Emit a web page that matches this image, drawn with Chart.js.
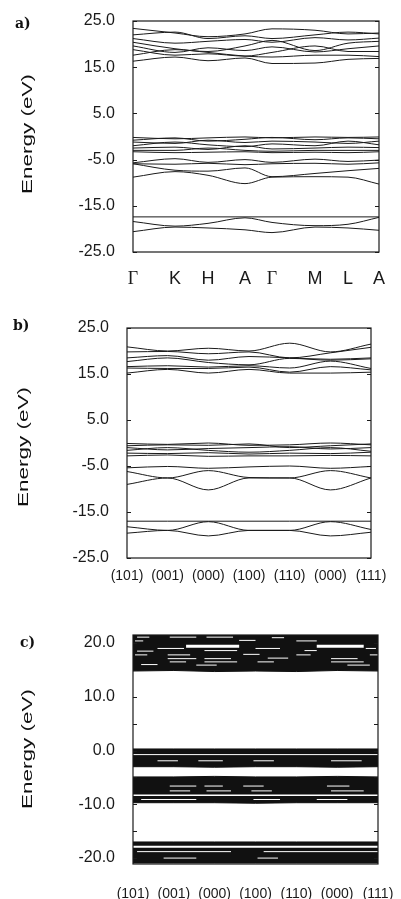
<!DOCTYPE html>
<html>
<head>
<meta charset="utf-8">
<script src="https://cdn.jsdelivr.net/npm/chart.js@4.4.1/dist/chart.umd.min.js"></script>
<style>
    body { margin: 0; background: #fff; width: 401px; height: 899px; position: relative; overflow: hidden; }
    .panel { position: absolute; left: 0; }
    .tag { position: absolute; font-family: 'DejaVu Serif', serif; font-weight: bold; font-size: 14px; color: #111; }
    .ylab { position: absolute; font-family: 'Liberation Sans', Arial, sans-serif; font-size: 15px; color: #111;
            white-space: nowrap; transform: translate(-50%, -50%) rotate(-90deg) scaleX(1.5); }
</style>
</head>
<body>
<canvas id="chartA" class="panel" style="top:0px" width="401" height="295"></canvas>
<canvas id="chartB" class="panel" style="top:300px" width="401" height="295"></canvas>
<canvas id="chartC" class="panel" style="top:600px" width="401" height="299"></canvas>

<div class="tag" style="left:15px; top:15px">a)</div>
<div class="tag" style="left:13px; top:317px">b)</div>
<div class="tag" style="left:20px; top:634px">c)</div>
<div class="ylab" style="left:26px; top:134px">Energy (eV)</div>
<div class="ylab" style="left:22px; top:447px">Energy (eV)</div>
<div class="ylab" style="left:26px; top:749px">Energy (eV)</div>

<script>
// ---- a) wurtzite path, energies at G K H A G M L A ----
const kPosA = [0, 42, 75, 112, 139, 182, 215, 246];
const kLabelsA = ['Γ', 'K', 'H', 'A', 'Γ', 'M', 'L', 'A'];
const eTicksA = [25, 15, 5, -5, -15, -25];

const condA = [
    [23.4, 22.4, 21.6, 22.2, 23.3, 23.0, 22.2, 22.4],
    [22.0, 22.6, 21.2, 21.8, 21.2, 22.0, 22.6, 22.2],
    [21.2, 20.2, 20.6, 21.0, 20.4, 21.4, 20.9, 21.3],
    [20.4, 19.0, 18.4, 19.6, 20.8, 18.6, 20.2, 20.6],
    [19.6, 18.2, 19.2, 18.6, 19.4, 18.3, 19.0, 19.6],
    [18.8, 17.6, 17.9, 17.4, 18.2, 19.6, 18.4, 18.4],
    [17.6, 18.8, 18.2, 17.4, 17.2, 17.6, 17.6, 17.3],
    [16.3, 17.2, 16.4, 17.0, 15.8, 15.9, 16.7, 16.9]
];
const valA = [
    [-0.2, -0.5, -0.3, -0.1, -0.3, -0.1, -0.2, -0.1],
    [-0.8, -0.3, -1.0, -0.6, -0.2, -0.7, -0.3, -0.5],
    [-1.2, -1.5, -0.8, -1.3, -1.0, -1.2, -1.5, -1.0],
    [-2.0, -1.2, -1.8, -2.2, -1.6, -2.0, -1.0, -1.8],
    [-2.5, -2.3, -2.8, -2.0, -2.7, -2.5, -2.3, -2.4],
    [-3.0, -3.0, -2.5, -3.0, -3.2, -3.0, -3.0, -3.0],
    [-3.3, -3.5, -3.4, -3.3, -3.5, -3.4, -3.5, -3.3]
];
const midA = [
    [-5.7, -4.8, -5.6, -5.0, -5.6, -4.9, -5.4, -5.1],
    [-5.9, -6.0, -5.8, -6.1, -5.9, -5.8, -6.0, -5.7],
    [-5.9, -7.3, -7.5, -6.8, -8.7, -8.0, -7.4, -6.9],
    [-8.8, -7.6, -8.4, -10.2, -8.8, -8.7, -8.8, -10.3]
];
const coreA = [
    [-17.4, -17.4, -17.4, -17.4, -17.4, -17.4, -17.4, -17.4],
    [-18.4, -19.4, -18.8, -17.6, -18.6, -19.3, -19.0, -17.5],
    [-20.6, -19.6, -19.8, -20.2, -20.8, -19.6, -19.8, -20.3]
];

// ---- b) supercell path ----
const kPosB = [0, 1, 2, 3, 4, 5, 6];
const kLabelsB = ['(101)', '(001)', '(000)', '(100)', '(110)', '(000)', '(111)'];
const eTicksB = [25, 15, 5, -5, -15, -25];

const condB = [
    [20.9, 20.0, 20.6, 20.0, 21.7, 19.8, 21.5],
    [19.8, 19.9, 19.4, 19.8, 18.5, 19.6, 20.8],
    [18.5, 19.0, 18.0, 18.8, 18.5, 18.2, 18.5],
    [17.7, 18.5, 17.5, 17.0, 18.4, 18.0, 18.3],
    [16.6, 16.8, 16.5, 16.8, 16.3, 17.8, 16.2],
    [16.3, 16.2, 16.2, 16.5, 15.4, 16.6, 15.9],
    [15.2, 16.0, 15.2, 16.0, 15.2, 15.2, 15.4]
];
const valB = [
    [-0.1, -0.3, 0.0, -0.5, -0.4, 0.0, -0.4],
    [-0.6, -0.4, -0.5, -0.2, -1.0, -0.6, -0.2],
    [-1.0, -1.5, -1.2, -1.0, -0.8, -1.3, -1.0],
    [-1.6, -1.0, -1.6, -2.0, -1.6, -1.0, -1.8],
    [-2.2, -2.3, -2.1, -2.4, -2.2, -2.3, -2.0],
    [-2.8, -2.6, -2.9, -2.8, -2.8, -2.7, -2.8]
];
const midB = [
    [-5.4, -5.1, -5.5, -5.2, -5.0, -5.5, -5.1],
    [-6.2, -7.6, -6.0, -7.5, -7.6, -6.0, -7.6],
    [-9.0, -7.6, -10.2, -7.6, -7.6, -10.2, -7.6]
];
const coreB = [
    [-17.0, -17.0, -17.0, -17.0, -17.0, -17.0, -17.0],
    [-18.2, -19.0, -17.1, -19.0, -19.0, -17.1, -18.8],
    [-19.6, -19.0, -20.2, -19.0, -19.0, -20.2, -19.4]
];

// ---- c) large cell: dense band blocks (top, bottom per k) and gaps inside them ----
const kPosC = [0, 1, 2, 3, 4, 5, 6];
const kLabelsC = kLabelsB;
const eTicksC = [20, 10, 0, -10, -20];
const eMarksC = [20, 15, 10, 5, 0, -5, -10, -15, -20];

const condTopC = [21.5, 21.5, 21.5, 21.5, 21.5, 21.5, 21.5];
const condBotC = [14.8, 14.9, 14.7, 14.8, 14.7, 14.9, 14.8];
const val1TopC = [0.3, 0.3, 0.3, 0.3, 0.3, 0.3, 0.3];
const val1BotC = [-3.0, -3.0, -3.1, -3.0, -3.0, -3.1, -3.0];
const val2TopC = [-4.9, -4.9, -4.8, -4.9, -4.9, -4.8, -4.9];
const val2BotC = [-9.7, -9.7, -9.7, -9.8, -9.7, -9.7, -9.7];
const coreTopC = [-17.0, -17.0, -17.0, -17.0, -17.0, -17.0, -17.0];
const coreBotC = [-20.9, -20.9, -20.9, -20.9, -20.9, -20.9, -20.9];

// [k start, k end, energy, width]
const gapsC = [
    [0.1, 0.4, 21.1, 1], [0.9, 1.55, 21.1, 1], [1.8, 2.45, 21.1, 1], [3.4, 3.7, 21.0, 1],
    [0.05, 0.25, 20.4, 1], [4.0, 4.5, 20.4, 1], [2.6, 3.0, 20.5, 1],
    [1.3, 2.6, 19.4, 3], [4.5, 5.65, 19.4, 3],
    [0.6, 1.25, 19.0, 1], [3.0, 3.6, 19.0, 1], [5.7, 5.95, 19.0, 1],
    [1.75, 2.55, 18.6, 1], [4.2, 4.5, 18.6, 1], [0.1, 0.5, 18.5, 1],
    [0.05, 0.35, 17.8, 1], [0.85, 1.4, 17.8, 1], [4.0, 4.35, 17.8, 1], [5.8, 6.0, 17.8, 1], [2.7, 3.1, 17.9, 1],
    [0.85, 1.55, 17.1, 1], [1.75, 2.4, 17.1, 1], [4.85, 5.5, 17.1, 1], [3.3, 3.8, 17.2, 1],
    [0.9, 1.3, 16.5, 1], [1.75, 2.55, 16.5, 1], [3.05, 3.45, 16.5, 1], [4.85, 5.65, 16.5, 1],
    [1.55, 2.05, 15.9, 1], [5.25, 5.8, 15.9, 1], [0.2, 0.6, 16.0, 1],
    [0.0, 6.0, -0.75, 1],
    [0.6, 1.1, -1.9, 1], [1.6, 2.2, -1.9, 1], [2.95, 3.45, -1.9, 1], [4.85, 5.6, -1.9, 1],
    [0.9, 1.55, -6.6, 1], [1.75, 2.2, -6.6, 1], [2.7, 3.2, -6.6, 1], [4.75, 5.3, -6.6, 1],
    [0.9, 1.4, -7.5, 1], [1.8, 2.4, -7.5, 1], [2.9, 3.4, -7.5, 1], [4.85, 5.65, -7.5, 1],
    [0.0, 6.0, -8.3, 1.5],
    [0.2, 1.55, -9.1, 1], [2.95, 3.6, -9.1, 1], [4.5, 5.25, -9.1, 1],
    [0.0, 6.0, -17.9, 2],
    [0.1, 2.4, -18.8, 1], [3.2, 6.0, -18.8, 1],
    [0.75, 1.55, -20.0, 1], [3.05, 3.55, -20.0, 1]
];

const ink = '#1a1a1a';

// box round the plot area plus short inward ticks on both sides
const framePlugin = {
    id: 'frame',
    afterDatasetsDraw(chart, args, opts) {
        const { ctx, chartArea: a, scales } = chart;
        ctx.save();
        ctx.strokeStyle = ink;
        ctx.lineWidth = 1.2;
        ctx.strokeRect(a.left, a.top, a.right - a.left, a.bottom - a.top);
        (opts.marks || []).forEach(v => {
            const y = Math.round(scales.y.getPixelForValue(v)) + 0.5;
            ctx.beginPath();
            ctx.moveTo(a.left, y); ctx.lineTo(a.left + 4, y);
            ctx.moveTo(a.right, y); ctx.lineTo(a.right - 4, y);
            ctx.stroke();
        });
        ctx.restore();
    }
};

const bandSets = (kPos, bands) => bands.map(b => ({
    data: b.map((e, i) => ({ x: kPos[i], y: e })),
    borderColor: ink,
    borderWidth: 1,
    pointRadius: 0,
    cubicInterpolationMode: 'monotone',
    fill: false
}));

const blockSets = (kPos, top, bot) => [
    { data: top.map((e, i) => ({ x: kPos[i], y: e })), borderColor: '#111', backgroundColor: '#111',
      borderWidth: 1, pointRadius: 0, fill: '+1', order: 2 },
    { data: bot.map((e, i) => ({ x: kPos[i], y: e })), borderColor: '#111',
      borderWidth: 1, pointRadius: 0, fill: false, order: 2 }
];

const gapSets = gaps => gaps.map(g => ({
    data: [{ x: g[0], y: g[2] }, { x: g[1], y: g[2] }],
    borderColor: '#fff',
    borderWidth: g[3],
    pointRadius: 0,
    fill: false,
    order: 1
}));

const makeChart = (id, cfg) => new Chart(document.getElementById(id), {
    type: 'line',
    data: { datasets: cfg.datasets },
    options: {
        responsive: false,
        animation: false,
        events: [],
        layout: { padding: { top: cfg.top, right: cfg.right, left: 0, bottom: 0 } },
        plugins: { legend: { display: false }, tooltip: { enabled: false }, frame: { marks: cfg.marks } },
        scales: {
            x: {
                type: 'linear',
                min: cfg.kPos[0],
                max: cfg.kPos[cfg.kPos.length - 1],
                grid: { display: false },
                border: { display: false },
                afterBuildTicks: s => { s.ticks = cfg.kPos.map(v => ({ value: v })); },
                afterFit: s => { s.height = cfg.xHeight; s.paddingLeft = 0; s.paddingRight = 0; },
                ticks: {
                    autoSkip: false,
                    maxRotation: 0,
                    padding: cfg.xPad,
                    color: ink,
                    font: cfg.xFont,
                    callback: (v, i) => cfg.kLabels[i]
                }
            },
            y: {
                min: cfg.yMin,
                max: cfg.yMax,
                grid: { display: false },
                border: { display: false },
                afterBuildTicks: s => { s.ticks = cfg.eTicks.map(v => ({ value: v })); },
                afterFit: s => { s.width = cfg.left; s.paddingTop = 0; s.paddingBottom = 0; },
                ticks: {
                    padding: 10,
                    color: ink,
                    font: { family: "'Liberation Sans', Arial, sans-serif", size: 16 },
                    callback: v => v.toFixed(1)
                }
            }
        }
    },
    plugins: [framePlugin]
});

const greekFont = ctx => ({
    family: kLabelsA[ctx.index] === 'Γ' ? "'Liberation Serif', serif" : "'Liberation Sans', Arial, sans-serif",
    size: 18
});
const pathFont = { family: "'Liberation Sans Narrow', 'Liberation Sans', Arial, sans-serif", size: 14 };

makeChart('chartA', {
    datasets: [...bandSets(kPosA, condA), ...bandSets(kPosA, valA), ...bandSets(kPosA, midA), ...bandSets(kPosA, coreA)],
    kPos: kPosA, kLabels: kLabelsA, eTicks: eTicksA, marks: eTicksA,
    yMin: -25, yMax: 25, top: 21, right: 22, left: 133, xHeight: 43, xPad: 8, xFont: greekFont
});

makeChart('chartB', {
    datasets: [...bandSets(kPosB, condB), ...bandSets(kPosB, valB), ...bandSets(kPosB, midB), ...bandSets(kPosB, coreB)],
    kPos: kPosB, kLabels: kLabelsB, eTicks: eTicksB, marks: eTicksB,
    yMin: -25, yMax: 25, top: 28, right: 30, left: 127, xHeight: 37, xPad: 2, xFont: pathFont
});

makeChart('chartC', {
    datasets: [
        ...blockSets(kPosC, condTopC, condBotC),
        ...blockSets(kPosC, val1TopC, val1BotC),
        ...blockSets(kPosC, val2TopC, val2BotC),
        ...blockSets(kPosC, coreTopC, coreBotC),
        ...gapSets(gapsC)
    ],
    kPos: kPosC, kLabels: kLabelsC, eTicks: eTicksC, marks: eMarksC,
    yMin: -21.1, yMax: 21.5, top: 35, right: 23, left: 133, xHeight: 35, xPad: 14, xFont: pathFont
});
</script>
</body>
</html>
